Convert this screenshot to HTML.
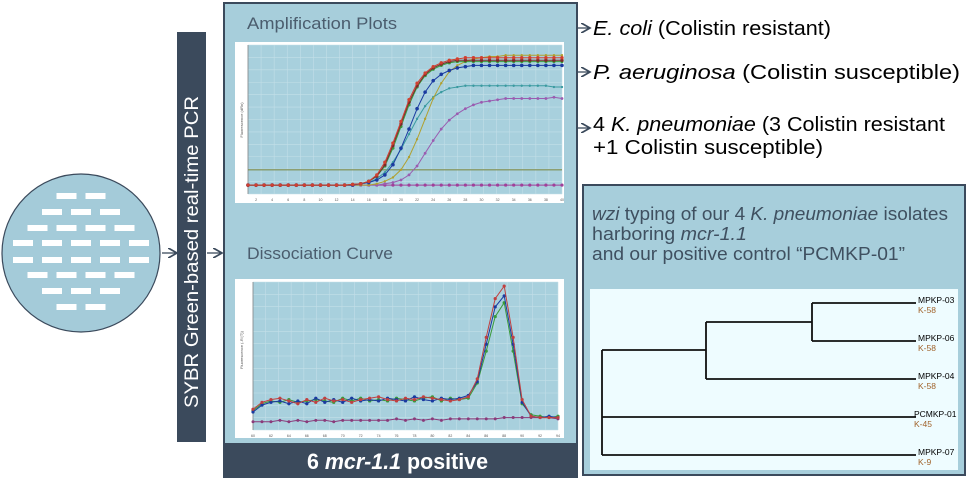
<!DOCTYPE html>
<html><head><meta charset="utf-8"><style>
body{margin:0;width:969px;height:480px;background:#fff;overflow:hidden;font-family:"Liberation Sans",sans-serif;position:relative}
</style></head><body>
<svg width="969" height="480" style="position:absolute;left:0;top:0">
<defs><marker id="ah" markerWidth="8" markerHeight="8" refX="7" refY="4" orient="auto"><path d="M0,0 L7,4 L0,8" fill="none" stroke="#3b4a5c" stroke-width="1.3"/></marker></defs>
<g>
<circle cx="81" cy="253" r="79" fill="#a4cbd9" stroke="#3b4a5c" stroke-width="1.2"/>
<g fill="#fff" id="wells"></g>
</g>
<line x1="162" y1="253" x2="177" y2="253" stroke="#3b4a5c" stroke-width="1.3" marker-end="url(#ah)"/>
<rect x="177" y="32" width="29" height="410" fill="#3b4a5c"/>
<text transform="translate(198,408) rotate(-90)" fill="#fff" font-size="19" textLength="312" lengthAdjust="spacingAndGlyphs">SYBR Green-based  real-time PCR</text>
<line x1="207" y1="253" x2="222" y2="253" stroke="#3b4a5c" stroke-width="1.3" marker-end="url(#ah)"/>
<rect x="224" y="3" width="353" height="474" fill="#a7cedb" stroke="#3b4a5c" stroke-width="2"/>
<rect x="224" y="443" width="353" height="35" fill="#3b4a5c"/>
<text x="307" y="469" fill="#fff" font-size="22" font-weight="bold" textLength="181" lengthAdjust="spacingAndGlyphs">6 <tspan font-style="italic">mcr-1.1</tspan> positive</text>
<text x="247" y="29" fill="#4b5d6e" font-size="17" textLength="150" lengthAdjust="spacingAndGlyphs">Amplification Plots</text>
<text x="247" y="259" fill="#4b5d6e" font-size="17" textLength="146" lengthAdjust="spacingAndGlyphs">Dissociation Curve</text>
<rect x="235" y="42" width="329" height="161" fill="#fff"/>
<rect x="235" y="279" width="329" height="159" fill="#fff"/>
<g id="amp"></g>
<g id="dis"></g>
<line x1="578" y1="28" x2="590" y2="28" stroke="#3b4a5c" stroke-width="1.3" marker-end="url(#ah)"/>
<line x1="578" y1="72" x2="590" y2="72" stroke="#3b4a5c" stroke-width="1.3" marker-end="url(#ah)"/>
<line x1="578" y1="128" x2="590" y2="128" stroke="#3b4a5c" stroke-width="1.3" marker-end="url(#ah)"/>
<text x="593" y="35" font-size="20" fill="#000" textLength="238" lengthAdjust="spacingAndGlyphs"><tspan font-style="italic">E. coli</tspan> (Colistin resistant)</text>
<text x="593" y="79" font-size="20" fill="#000" textLength="367" lengthAdjust="spacingAndGlyphs"><tspan font-style="italic">P. aeruginosa</tspan> (Colistin susceptible)</text>
<text x="593" y="131" font-size="20" fill="#000" textLength="352" lengthAdjust="spacingAndGlyphs">4 <tspan font-style="italic">K. pneumoniae</tspan> (3 Colistin resistant</text>
<text x="593" y="154" font-size="20" fill="#000" textLength="230" lengthAdjust="spacingAndGlyphs">+1 Colistin susceptible)</text>
<rect x="583" y="185" width="382" height="290" fill="#a7cedb" stroke="#3b4a5c" stroke-width="2"/>
<rect x="590" y="289" width="368" height="181" fill="#eefcff"/>
<text x="592" y="220" font-size="18" fill="#3f5060" textLength="356" lengthAdjust="spacingAndGlyphs"><tspan font-style="italic">wzi</tspan> typing of our 4 <tspan font-style="italic">K. pneumoniae</tspan> isolates</text>
<text x="592" y="240" font-size="18" fill="#3f5060" textLength="155" lengthAdjust="spacingAndGlyphs">harboring <tspan font-style="italic">mcr-1.1</tspan></text>
<text x="592" y="260" font-size="18" fill="#3f5060" textLength="313" lengthAdjust="spacingAndGlyphs">and our positive control “PCMKP-01”</text>
<g stroke="#111" stroke-width="1.8" fill="none">
<path d="M812,303 V341 M812,303 H916 M812,341 H916"/>
<path d="M706,322 V379 M706,322 H812 M706,379 H916"/>
<path d="M602,350 V455 M602,350 H706 M602,417 H916 M602,455 H916"/>
</g>
<g font-size="8.5">
<text x="918" y="303">MPKP-03</text><text x="918" y="313" fill="#a0622a">K-58</text>
<text x="918" y="341">MPKP-06</text><text x="918" y="351" fill="#a0622a">K-58</text>
<text x="918" y="379">MPKP-04</text><text x="918" y="389" fill="#a0622a">K-58</text>
<text x="914" y="417">PCMKP-01</text><text x="914" y="427" fill="#a0622a">K-45</text>
<text x="918" y="455">MPKP-07</text><text x="918" y="465" fill="#a0622a">K-9</text>
</g>
</svg>
<script>
const ampCycles=[1,2,3,4,5,6,7,8,9,10,11,12,13,14,15,16,17,18,19,20,21,22,23,24,25,26,27,28,29,30,31,32,33,34,35,36,37,38,39,40];
const ampRed=[0,0,0,0,0,0,0,0,0,0,0,0,0,0.005,0.01,0.03,0.08,0.18,0.33,0.5,0.67,0.8,0.88,0.93,0.96,0.98,0.99,1,1,1,1,1,1,1,1,1,1,1,1,1];
const ampDarkRed=[0,0,0,0,0,0,0,0,0,0,0,0,0,0.005,0.01,0.03,0.07,0.16,0.31,0.48,0.65,0.78,0.87,0.92,0.95,0.97,0.98,0.98,0.98,0.98,0.98,0.98,0.98,0.98,0.98,0.98,0.98,0.98,0.98,0.98];
const ampGreen=[0,0,0,0,0,0,0,0,0,0,0,0,0,0.005,0.01,0.03,0.07,0.15,0.29,0.46,0.63,0.77,0.86,0.91,0.94,0.96,0.97,0.97,0.97,0.97,0.97,0.97,0.97,0.97,0.97,0.97,0.97,0.97,0.97,0.97];
const ampBlue=[0,0,0,0,0,0,0,0,0,0,0,0,0,0,0.01,0.02,0.04,0.08,0.16,0.29,0.44,0.6,0.73,0.82,0.87,0.9,0.92,0.93,0.94,0.94,0.94,0.94,0.94,0.94,0.94,0.94,0.94,0.94,0.94,0.94];
const ampYellow=[0,0,0,0,0,0,0,0,0,0,0,0,0,0,0,0,0.01,0.03,0.06,0.12,0.22,0.36,0.52,0.68,0.8,0.89,0.94,0.97,0.99,1,1.01,1.01,1.02,1.02,1.02,1.02,1.02,1.02,1.02,1.02];
const ampTeal=[0,0,0,0,0,0,0,0,0,0,0,0,0,0,0.01,0.02,0.05,0.1,0.18,0.28,0.4,0.52,0.62,0.69,0.73,0.76,0.77,0.78,0.78,0.78,0.78,0.78,0.78,0.78,0.78,0.78,0.78,0.78,0.77,0.77];
const ampPurple=[0,0,0,0,0,0,0,0,0,0,0,0,0,0,0,0,0,0.01,0.02,0.04,0.08,0.15,0.25,0.35,0.44,0.51,0.56,0.6,0.63,0.65,0.66,0.67,0.68,0.68,0.68,0.68,0.68,0.68,0.69,0.68];
const ampFlat=[0,0,0,0,0,0,0,0,0,0,0,0,0,0,0,0,0,0,0,0,0,0,0,0,0,0,0,0,0,0,0,0,0,0,0,0,0,0,0,0];
const ampThreshold=0.12;
const ampTicks=[2,4,6,8,10,12,14,16,18,20,22,24,26,28,30,32,34,36,38,40];
const disTemps=[60,61,62,63,64,65,66,67,68,69,70,71,72,73,74,75,76,77,78,79,80,81,82,83,84,85,86,87,88,89,90,91,92,93,94];
const disA=[0.08,0.13,0.15,0.16,0.14,0.12,0.15,0.13,0.16,0.14,0.15,0.13,0.15,0.16,0.17,0.15,0.14,0.16,0.15,0.17,0.16,0.15,0.14,0.15,0.17,0.3,0.6,0.88,0.97,0.6,0.15,0.03,0.02,0.02,0.02];
const disB=[0.06,0.11,0.13,0.14,0.12,0.14,0.12,0.16,0.13,0.15,0.13,0.16,0.14,0.15,0.14,0.16,0.15,0.14,0.17,0.15,0.14,0.16,0.15,0.16,0.18,0.28,0.55,0.82,0.9,0.55,0.13,0.03,0.02,0.03,0.02];
const disC=[0.07,0.12,0.14,0.13,0.15,0.13,0.14,0.15,0.14,0.13,0.16,0.14,0.16,0.14,0.15,0.14,0.16,0.15,0.14,0.16,0.17,0.14,0.16,0.15,0.16,0.27,0.5,0.75,0.85,0.5,0.12,0.04,0.03,0.02,0.03];
const disFlat=[-0.01,-0.01,-0.01,0,-0.01,0,-0.01,0,0,-0.01,0,0,0,0,0,0,0.01,0,0.01,0,0.01,0,0.01,0.01,0.01,0.01,0.01,0.01,0.02,0.02,0.02,0.02,0.02,0.02,0.01];
const disTicks=[60,62,64,66,68,70,72,74,76,78,80,82,84,86,88,90,92,94];

const NS='http://www.w3.org/2000/svg';
function mk(tag,attrs,parent){const e=document.createElementNS(NS,tag);for(const k in attrs)e.setAttribute(k,attrs[k]);parent.appendChild(e);return e;}

const wg=document.getElementById('wells');
const rowCounts=[2,3,4,5,5,4,3,2];
const rowY=[196,212,228,243,260,275,291,307];
rowCounts.forEach((n,i)=>{for(let j=0;j<n;j++){const cx=81+(j-(n-1)/2)*29;const w=mk('rect',{x:cx-10,y:rowY[i]-3,width:20,height:6},wg);

}});

function chart(g,box,xmin,xmax,ymin,ymax,xticks){
  const X=v=>box.x0+(v-xmin)/(xmax-xmin)*(box.x1-box.x0);
  const Y=v=>box.y1-(v-ymin)/(ymax-ymin)*(box.y1-box.y0);
  mk('rect',{x:box.x0,y:box.y0,width:box.x1-box.x0,height:box.y1-box.y0,fill:'#a8d0dd'},g);
  for(let i=0;i<=24;i++){const x=box.x0+i*(box.x1-box.x0)/24;mk('line',{x1:x,y1:box.y0,x2:x,y2:box.y1,stroke:'#c3dfe8','stroke-width':0.6},g);}
  for(let i=0;i<=12;i++){const y=box.y0+i*(box.y1-box.y0)/12;mk('line',{x1:box.x0,y1:y,x2:box.x1,y2:y,stroke:'#c3dfe8','stroke-width':0.6},g);}
  mk('line',{x1:box.x0,y1:box.y0,x2:box.x0,y2:box.y1,stroke:'#777','stroke-width':0.7},g);
  xticks.forEach(t=>{const tx=mk('text',{x:X(t),y:box.y1+7,'font-size':3.5,fill:'#555','text-anchor':'middle'},g);tx.textContent=t;
  
  });
  return {X,Y};
}
function series(g,ax,xs,ys,color,r){
  let d='';xs.forEach((x,i)=>{d+=(i?'L':'M')+ax.X(x).toFixed(1)+','+ax.Y(ys[i]).toFixed(1);});
  const p=mk('path',{d:d,fill:'none',stroke:color,'stroke-width':1},g);
  
  
  xs.forEach((x,i)=>{const c=mk('circle',{cx:ax.X(x),cy:ax.Y(ys[i]),r:r,fill:color},g);
  
  });
}
const ag=document.getElementById('amp');
const aax=chart(ag,{x0:248,x1:562,y0:45,y1:194},1,40,-0.07,1.1,ampTicks);
const th=mk('line',{x1:248,x2:562,y1:aax.Y(ampThreshold),y2:aax.Y(ampThreshold),stroke:'#7a8a4a','stroke-width':1.2},ag);


const yl=mk('text',{transform:'translate(243,120) rotate(-90)','font-size':4,fill:'#555','text-anchor':'middle'},ag);yl.textContent='Fluorescence (dRn)';


series(ag,aax,ampCycles,ampFlat,'#a0409a',1.6);
series(ag,aax,ampCycles,ampPurple,'#9a5cb0',1.4);
series(ag,aax,ampCycles,ampTeal,'#3a9aa0',1.2);
series(ag,aax,ampCycles,ampYellow,'#b0a030',1.2);
series(ag,aax,ampCycles,ampGreen,'#3a9a3a',1.6);
series(ag,aax,ampCycles,ampBlue,'#1a3aa0',1.8);
series(ag,aax,ampCycles,ampDarkRed,'#7a2a2a',1.7);
series(ag,aax,ampCycles,ampRed,'#d04030',1.7);

const dg=document.getElementById('dis');
const dax=chart(dg,{x0:253,x1:558,y0:282,y1:430},60,94,-0.07,1.0,disTicks);
const yl2=mk('text',{transform:'translate(243,350) rotate(-90)','font-size':4,fill:'#555','text-anchor':'middle'},dg);yl2.textContent='Fluorescence (-R\'(T))';


series(dg,dax,disTemps,disFlat,'#8a3a7a',1.5);
series(dg,dax,disTemps,disC,'#3a9a3a',1.6);
series(dg,dax,disTemps,disB,'#1a3aa0',1.6);
series(dg,dax,disTemps,disA,'#c04040',1.6);
</script>
</body></html>
